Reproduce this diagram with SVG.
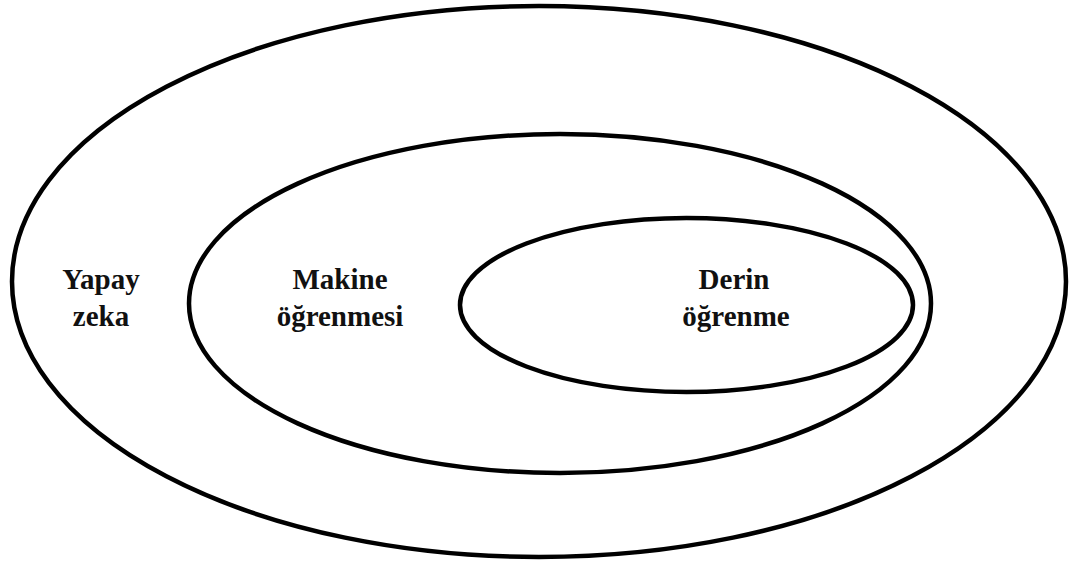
<svg xmlns="http://www.w3.org/2000/svg" width="1072" height="564" viewBox="0 0 1072 564">
  <style>
    .ring { fill: none; stroke: #000; stroke-width: 4.5; }
    .label { font-family: "Liberation Serif", "Times New Roman", serif; font-weight: bold; font-size: 29px; fill: #111; text-anchor: middle; }
  </style>
  <rect width="1072" height="564" fill="#fff"/>
  <g id="yapay-zeka">
    <ellipse class="ring" cx="539" cy="281.5" rx="527" ry="275.5"/>
    <text class="label" x="101" y="289">Yapay</text>
    <text class="label" x="101" y="326">zeka</text>
  </g>
  <g id="makine-ogrenmesi">
    <ellipse class="ring" cx="560" cy="303.5" rx="371" ry="169.5"/>
    <text class="label" x="340" y="289">Makine</text>
    <text class="label" x="340" y="326">öğrenmesi</text>
  </g>
  <g id="derin-ogrenme">
    <ellipse class="ring" cx="686.5" cy="305" rx="226.5" ry="87"/>
    <text class="label" x="734" y="289">Derin</text>
    <text class="label" x="736" y="326">öğrenme</text>
  </g>
  <g id="connectors"/>
</svg>
